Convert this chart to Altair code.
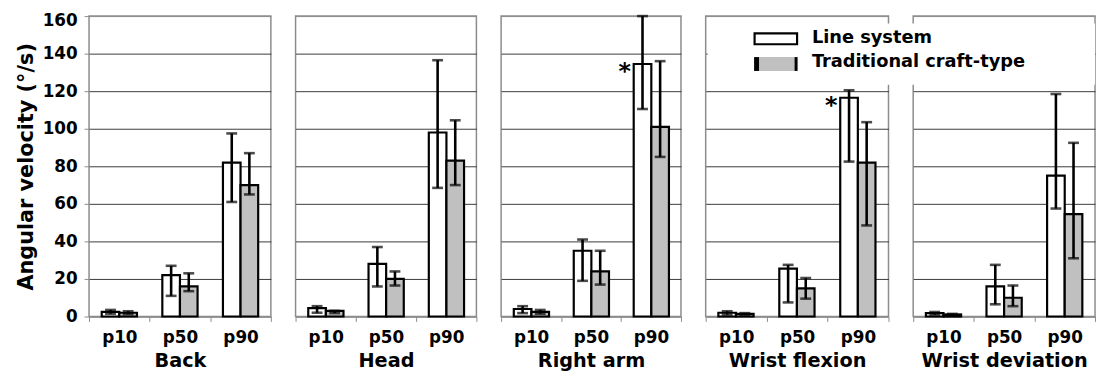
import altair as alt
import pandas as pd

panels = ["Back", "Head", "Right arm", "Wrist flexion", "Wrist deviation"]
percentiles = ["p10", "p50", "p90"]
series = ["Line system", "Traditional craft-type"]

line_mean = {"Back": [2.5, 22, 82], "Head": [4.5, 28, 98], "Right arm": [4, 35, 134.5],
             "Wrist flexion": [2, 25.5, 116.5], "Wrist deviation": [1.8, 16, 75]}
line_lo = {"Back": [1.5, 11, 61], "Head": [2, 16, 68.5], "Right arm": [1.8, 19, 110.5],
           "Wrist flexion": [1, 7.5, 82.5], "Wrist deviation": [1, 6.5, 57.5]}
line_hi = {"Back": [3.5, 27, 97.5], "Head": [5.5, 37, 136.5], "Right arm": [5.5, 41, 160],
           "Wrist flexion": [2.8, 27.5, 120.5], "Wrist deviation": [2.4, 27.5, 118.5]}
trad_mean = {"Back": [2, 16, 70], "Head": [3, 20, 83], "Right arm": [2.5, 24, 101],
             "Wrist flexion": [1.4, 15, 82], "Wrist deviation": [1.1, 10, 54.5]}
trad_lo = {"Back": [1.2, 13.5, 65], "Head": [1.8, 16.5, 70], "Right arm": [1.5, 17, 85],
           "Wrist flexion": [0.9, 9.5, 48.5], "Wrist deviation": [0.7, 5.5, 31]}
trad_hi = {"Back": [2.8, 23, 87], "Head": [3, 24, 104.5], "Right arm": [3.5, 35, 136],
           "Wrist flexion": [1.8, 20.5, 103.5], "Wrist deviation": [1.4, 16.5, 92.5]}
significant = {"Right arm": "p90", "Wrist flexion": "p90"}
y_ticks = [0, 20, 40, 60, 80, 100, 120, 140, 160]

rows = []
for p in panels:
    for i, pc in enumerate(percentiles):
        rows.append(dict(panel=p, pct=pc, series=series[0], mean=line_mean[p][i],
                         lo=line_lo[p][i], hi=line_hi[p][i],
                         star="*" if significant.get(p) == pc else ""))
        rows.append(dict(panel=p, pct=pc, series=series[1], mean=trad_mean[p][i],
                         lo=trad_lo[p][i], hi=trad_hi[p][i], star=""))
df = pd.DataFrame(rows)
legend_df = pd.DataFrame({"series": series})

FONT = "DejaVu Sans"
GRAY = "#8c8c8c"
widths = [184, 183, 182, 185, 184]
SPACING = 25
H = 304

fill_scale = alt.Scale(domain=series, range=["white", "#c0c0c0"])
grid_color = {"condition": {"test": "datum.value >= 160 || datum.value <= 0", "value": GRAY},
              "value": "#3a3a3a"}


def make_panel(idx, name):
    d = df[df.panel == name]
    if idx == 0:
        yaxis = alt.Axis(values=y_ticks, title="Angular velocity  (°/s)", grid=True,
                         gridColor=grid_color, gridWidth=1, labelFontSize=17,
                         labelFont=FONT, labelFontWeight="bold", labelColor="black",
                         labelOverlap=False,
                         titleFont=FONT, titleFontSize=21, titleFontWeight="bold",
                         titleColor="black", titlePadding=6, tickSize=5, tickColor=GRAY,
                         labelPadding=7, domain=False,
                         labelOffset={"condition": {"test": "datum.value >= 160", "value": 5},
                                      "value": 0})
    else:
        yaxis = alt.Axis(values=y_ticks, title=None, grid=True, gridColor=grid_color,
                         gridWidth=1, labels=False, ticks=False, domain=False)
    xaxis = alt.Axis(title=name, tickBand="extent", labelAngle=0, labelFont=FONT,
                     labelFontSize=17, labelFontWeight="bold", labelColor="black",
                     labelPadding=8, titleFont=FONT, titleFontSize=19.5,
                     titleFontWeight="bold", titleColor="black", titlePadding=7,
                     tickSize=5, tickColor=GRAY, domainColor=GRAY, domainWidth=1.5)
    base = alt.Chart(d).encode(
        x=alt.X("pct:N", sort=percentiles, axis=xaxis,
                scale=alt.Scale(paddingInner=0, paddingOuter=0)),
        xOffset=alt.XOffset("series:N", sort=series,
                            scale=alt.Scale(paddingOuter=0.72, paddingInner=0)),
    )
    yscale = alt.Scale(domain=[0, 160], nice=False)
    bars = base.mark_bar(stroke="black", strokeWidth=2.2).encode(
        y=alt.Y("mean:Q", scale=yscale, axis=yaxis),
        fill=alt.Fill("series:N", scale=fill_scale, legend=None),
    )
    err = base.mark_rule(color="black", strokeWidth=2.6).encode(
        y=alt.Y("lo:Q", scale=yscale, axis=yaxis), y2="hi:Q")
    caps = base.transform_fold(["lo", "hi"], as_=["k", "v"]).mark_tick(
        color="black", thickness=2.6, size=11, orient="horizontal").encode(
        y=alt.Y("v:Q", scale=yscale, axis=yaxis))
    stars = base.transform_filter("datum.star != ''").mark_text(
        font=FONT, fontSize=24, fontWeight="bold", color="black", dx=-18, dy=8,
        baseline="middle").encode(y=alt.Y("mean:Q", scale=yscale, axis=yaxis),
                                  text="star:N")
    layers = [bars, err, caps, stars]
    if idx == 4:
        lx0, lx1, tx = -160.5, -117.5, -102.5
        mask = alt.Chart(legend_df.head(1)).mark_rect(fill="white").encode(
            x=alt.value(-208), x2=alt.value(widths[4]), y=alt.value(7.5), y2=alt.value(69.5))
        s0 = alt.Chart(legend_df).transform_filter(
            alt.datum.series == series[0]).mark_rect(stroke="black", strokeWidth=2.2).encode(
            x=alt.value(lx0), x2=alt.value(lx1), y=alt.value(17.5), y2=alt.value(28.5),
            fill=alt.Fill("series:N", scale=fill_scale, legend=None))
        s1 = alt.Chart(legend_df).transform_filter(
            alt.datum.series == series[1]).mark_rect().encode(
            x=alt.value(lx0), x2=alt.value(lx1), y=alt.value(41.5), y2=alt.value(55.5),
            fill=alt.Fill("series:N", scale=fill_scale, legend=None))
        e0 = alt.Chart(legend_df.head(1)).mark_rule(color="black", strokeWidth=5).encode(
            x=alt.value(lx0 + 2), y=alt.value(41.5), y2=alt.value(55.5))
        e1 = alt.Chart(legend_df.head(1)).mark_rule(color="black", strokeWidth=3).encode(
            x=alt.value(lx1 - 1), y=alt.value(41.5), y2=alt.value(55.5))
        t0 = alt.Chart(legend_df).transform_filter(
            alt.datum.series == series[0]).mark_text(
            align="left", baseline="middle", font=FONT, fontSize=18, fontWeight="bold",
            color="black").encode(x=alt.value(tx), y=alt.value(22.5), text="series:N")
        t1 = alt.Chart(legend_df).transform_filter(
            alt.datum.series == series[1]).mark_text(
            align="left", baseline="middle", font=FONT, fontSize=18, fontWeight="bold",
            color="black").encode(x=alt.value(tx), y=alt.value(46.5), text="series:N")
        layers += [mask, s0, s1, e0, e1, t0, t1]
    return alt.layer(*layers).properties(width=widths[idx], height=H)


charts = [make_panel(i, p) for i, p in enumerate(panels)]
chart = alt.hconcat(*charts, spacing=SPACING, bounds="flush").properties(
    padding={"left": 6, "top": 1, "right": 0, "bottom": 0}
).configure_view(stroke=GRAY, strokeWidth=1.5)

chart.save("out.html", embed_options={"renderer": "svg", "actions": False})
